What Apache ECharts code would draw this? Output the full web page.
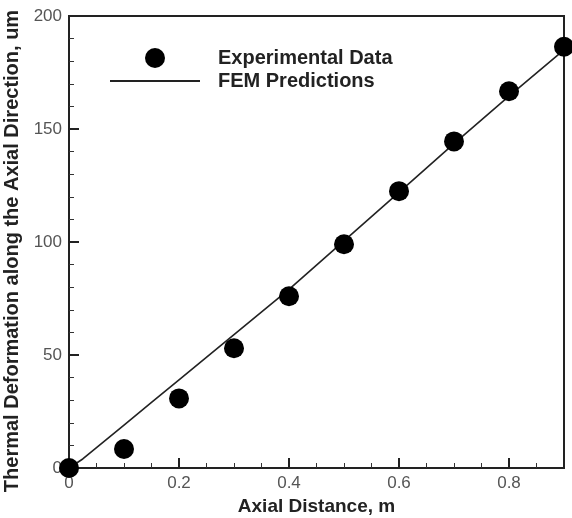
<!DOCTYPE html>
<html>
<head>
<meta charset="utf-8">
<script src="https://cdn.jsdelivr.net/npm/echarts@6/dist/echarts.min.js"></script>
<style>html,body{margin:0;padding:0;background:#fff}#c{width:572px;height:518px}</style>
</head>
<body>
<div id="c"></div>
<script>
var expX = [0, 0.1, 0.2, 0.3, 0.4, 0.5, 0.6, 0.7, 0.8, 0.9];
var expY = [0, 8.4, 30.8, 53, 76, 99, 122.5, 144.5, 166.7, 186.4];
var femX = [0, 0.025, 0.05, 0.1, 0.15, 0.2, 0.3, 0.4, 0.5, 0.6, 0.7, 0.8, 0.9];
var femY = [0, 4, 9, 19, 29, 39, 59, 79, 100.5, 122, 143.5, 164.5, 185];
var xTicks = [0, 0.2, 0.4, 0.6, 0.8];
var yTicks = [0, 50, 100, 150, 200];

var chart = echarts.init(document.getElementById('c'));
var font = '"Liberation Sans", Arial, sans-serif';
chart.setOption({
  animation: false,
  backgroundColor: '#fff',
  grid: { left: 69, top: 16, right: 8, bottom: 50, outerBoundsMode: 'none', containLabel: false,
    show: true, borderColor: '#222', borderWidth: 2, backgroundColor: 'transparent' },
  legend: [
    { data: ['Experimental Data'], left: 145, top: 48, padding: 0, orient: 'vertical', itemWidth: 20, itemHeight: 20,
      textStyle: { fontFamily: font, fontSize: 20, fontWeight: 'bold', color: '#222', padding: [0, 0, 0, 48] } },
    { data: [{ name: 'FEM Predictions', icon: 'rect' }], left: 110, top: 71, padding: 0, orient: 'vertical', itemWidth: 90, itemHeight: 2,
      itemStyle: { color: '#222' },
      textStyle: { fontFamily: font, fontSize: 20, fontWeight: 'bold', color: '#222', padding: [0, 0, 0, 13] } }
  ],
  xAxis: {
    type: 'value', min: 0, max: 0.9, interval: 0.2,
    name: 'Axial Distance, m', nameLocation: 'middle', nameGap: 27,
    nameTextStyle: { fontFamily: font, fontSize: 19, fontWeight: 'bold', color: '#222' },
    axisLine: { lineStyle: { color: '#222', width: 2 } },
    axisTick: { inside: true, length: 10, lineStyle: { color: '#222', width: 2 } },
    minorTick: { show: true, splitNumber: 4, length: 5, lineStyle: { color: '#333', width: 1 } },
    axisLabel: { showMaxLabel: false, fontFamily: font, fontSize: 17, color: '#555', margin: 7,
      formatter: function (v) { return xTicks.indexOf(Math.round(v * 10) / 10) >= 0 ? String(Math.round(v * 10) / 10) : ''; } },
    splitLine: { show: false }
  },
  yAxis: {
    type: 'value', min: 0, max: 200, interval: 50,
    name: 'Thermal Deformation along the Axial Direction, um', nameLocation: 'middle', nameGap: 38,
    nameTextStyle: { fontFamily: font, fontSize: 20, fontWeight: 'bold', color: '#222', padding: [0, 18, 0, 0] },
    axisLine: { show: true, lineStyle: { color: '#222', width: 2 } },
    axisTick: { show: true, inside: true, length: 10, lineStyle: { color: '#222', width: 2 } },
    minorTick: { show: true, splitNumber: 5, length: 5, lineStyle: { color: '#333', width: 1 } },
    axisLabel: { fontFamily: font, fontSize: 17, color: '#555', margin: 7,
      formatter: function (v) { return yTicks.indexOf(v) >= 0 ? String(v) : ''; } },
    splitLine: { show: false }
  },
  series: [
    { name: 'FEM Predictions', type: 'line', showSymbol: false, symbol: 'none', smooth: false,
      data: femX.map(function (x, i) { return [x, femY[i]]; }),
      lineStyle: { color: '#222', width: 1.6 }, itemStyle: { color: '#222' }, clip: false },
    { name: 'Experimental Data', type: 'scatter', symbol: 'circle', symbolSize: 20,
      data: expX.map(function (x, i) { return [x, expY[i]]; }),
      itemStyle: { color: '#000', opacity: 1 }, clip: false, z: 3 }
  ]
});
</script>
</body>
</html>
